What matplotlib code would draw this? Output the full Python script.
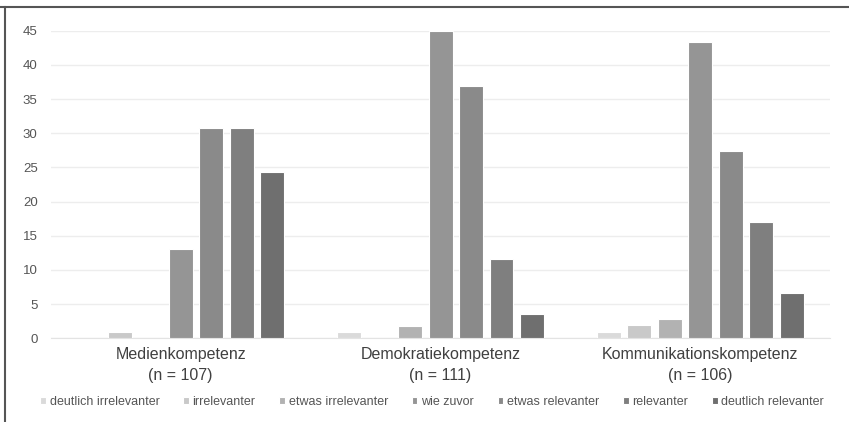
import numpy as np
import matplotlib.pyplot as plt
from matplotlib.lines import Line2D

plt.rcParams['font.family'] = ['Liberation Sans Narrow', 'Liberation Sans', 'DejaVu Sans']

# data
groups = ['Medienkompetenz\n(n = 107)', 'Demokratiekompetenz\n(n = 111)', 'Kommunikationskompetenz\n(n = 106)']
series_names = ['deutlich irrelevanter', 'irrelevanter', 'etwas irrelevanter', 'wie zuvor',
                'etwas relevanter', 'relevanter', 'deutlich relevanter']
deutlich_irrelevanter = [0, 0.9, 0.9]
irrelevanter = [0.9, 0, 1.9]
etwas_irrelevanter = [0, 1.8, 2.8]
wie_zuvor = [13.1, 45.0, 43.4]
etwas_relevanter = [30.8, 36.9, 27.4]
relevanter = [30.8, 11.6, 17.0]
deutlich_relevanter = [24.3, 3.6, 6.6]
yticks = [0, 5, 10, 15, 20, 25, 30, 35, 40, 45]

series = [deutlich_irrelevanter, irrelevanter, etwas_irrelevanter, wie_zuvor,
          etwas_relevanter, relevanter, deutlich_relevanter]
colors = ['#dadada', '#c9c9c9', '#b2b2b2', '#959595', '#8a8a8a', '#7f7f7f', '#6f6f6f']

fig = plt.figure(figsize=(8.49, 4.22), dpi=100)
ax = fig.add_axes([0.0598, 0.1983, 0.9182, 0.729])

x = np.arange(len(groups))
step = 0.1173
width = 0.0923
for i, (name, vals) in enumerate(zip(series_names, series)):
    ax.bar(x + (i - 3) * step, vals, width, color=colors[i], edgecolor='white',
           linewidth=0.8, label=name, zorder=3)

ax.set_xlim(-0.5, 2.5)
ax.set_ylim(0, 45)
ax.set_yticks(yticks)
ax.grid(axis='y', color='#ededed', linewidth=1.0, zorder=0)
for s in ['top', 'right', 'left']:
    ax.spines[s].set_visible(False)
ax.spines['bottom'].set_color('#e3e3e3')

ax.set_xticks(x)
ax.set_xticklabels(groups, fontsize=11.5, color='#404040', linespacing=1.45)
ax.tick_params(axis='x', length=0, pad=6.5)
ax.tick_params(axis='y', length=0, pad=9.5, labelsize=9.5, labelcolor='#555555')

fig.legend(loc='center', bbox_to_anchor=(0.509, 0.047), ncol=7, frameon=False,
           fontsize=9, handlelength=0.45, handleheight=0.45, handletextpad=0.3,
           columnspacing=1.9, labelcolor='#555555')

# frame lines on top and left edge like the scanned figure
fig.add_artist(Line2D([0, 1], [1 - 7 / 422] * 2, color='#555555', linewidth=1.5))
fig.add_artist(Line2D([5 / 849] * 2, [0, 1 - 7 / 422], color='#555555', linewidth=1.5))

fig.savefig('out.png', dpi=100)
